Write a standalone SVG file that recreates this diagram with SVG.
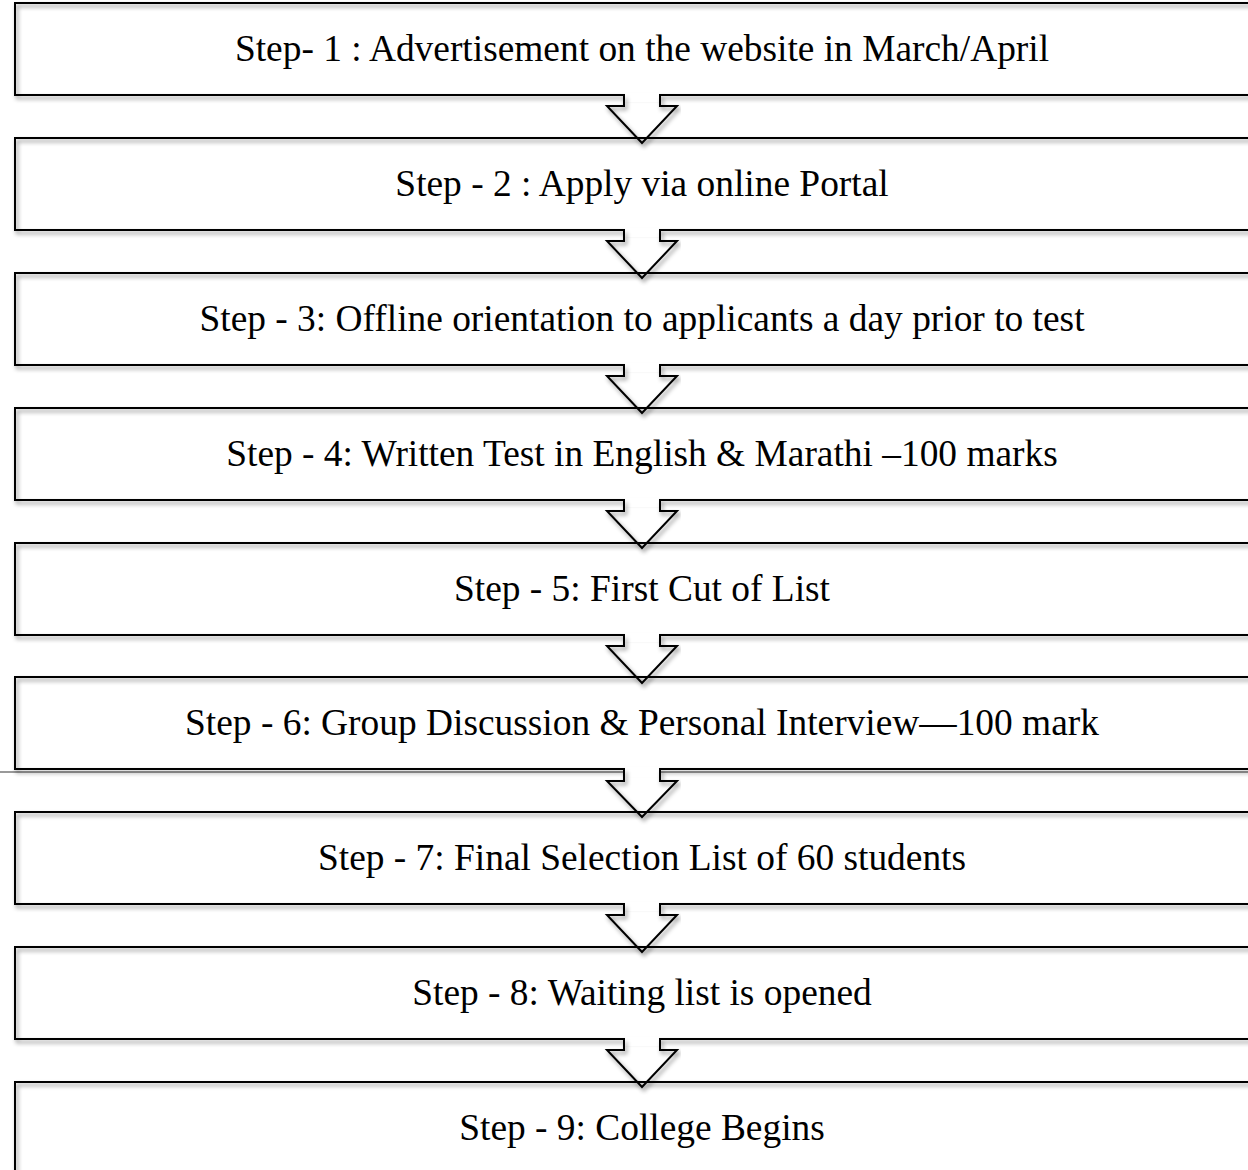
<svg xmlns="http://www.w3.org/2000/svg" width="1248" height="1170" viewBox="0 0 1248 1170">
<defs>
<filter id="sh" x="-5%" y="-20%" width="110%" height="150%">
<feDropShadow dx="2" dy="3" stdDeviation="2" flood-color="#000" flood-opacity="0.45"/>
</filter>
<style>
.box{fill:none;stroke:#000;stroke-width:2;filter:url(#sh)}
.t{font-family:"Liberation Serif","Times New Roman",serif;font-size:37.4px;fill:#000;text-anchor:middle}
.gap{fill:#fff;stroke:none}
.arr{fill:none;stroke:#000;stroke-width:2;stroke-linejoin:miter;filter:url(#sh)}
</style>
</defs>
<rect x="0" y="0" width="1248" height="1170" fill="#fff"/>
<line x1="0" y1="772" x2="1248" y2="772" stroke="#999" stroke-width="2"/>
<g id="n1"><rect class="box" x="15" y="3" width="1260" height="92"/><text class="t" x="642" y="61">Step- 1 : Advertisement on the website in March/April</text></g>
<g id="n2"><rect class="box" x="15" y="138" width="1260" height="92"/><text class="t" x="642" y="196">Step - 2 : Apply via online Portal</text></g>
<g id="n3"><rect class="box" x="15" y="273" width="1260" height="92"/><text class="t" x="642" y="331">Step - 3: Offline orientation to applicants a day prior to test</text></g>
<g id="n4"><rect class="box" x="15" y="408" width="1260" height="92"/><text class="t" x="642" y="466">Step - 4: Written Test in English &amp; Marathi –100 marks</text></g>
<g id="n5"><rect class="box" x="15" y="543" width="1260" height="92"/><text class="t" x="642" y="601">Step - 5: First Cut of List</text></g>
<g id="n6"><rect class="box" x="15" y="677" width="1260" height="92"/><text class="t" x="642" y="735">Step - 6: Group Discussion &amp; Personal Interview—100 mark</text></g>
<g id="n7"><rect class="box" x="15" y="812" width="1260" height="92"/><text class="t" x="642" y="870">Step - 7: Final Selection List of 60 students</text></g>
<g id="n8"><rect class="box" x="15" y="947" width="1260" height="92"/><text class="t" x="642" y="1005">Step - 8: Waiting list is opened</text></g>
<g id="n9"><rect class="box" x="15" y="1082" width="1260" height="120"/><text class="t" x="642" y="1140">Step - 9: College Begins</text></g>
<g id="connectors">
<g transform="translate(0,95)"><rect class="gap" x="625" y="-2" width="34" height="9"/><polyline class="arr" points="624,0 624,11 607,11 642,48 677,11 660,11 660,0"/></g>
<g transform="translate(0,230)"><rect class="gap" x="625" y="-2" width="34" height="9"/><polyline class="arr" points="624,0 624,11 607,11 642,48 677,11 660,11 660,0"/></g>
<g transform="translate(0,365)"><rect class="gap" x="625" y="-2" width="34" height="9"/><polyline class="arr" points="624,0 624,11 607,11 642,48 677,11 660,11 660,0"/></g>
<g transform="translate(0,500)"><rect class="gap" x="625" y="-2" width="34" height="9"/><polyline class="arr" points="624,0 624,11 607,11 642,48 677,11 660,11 660,0"/></g>
<g transform="translate(0,635)"><rect class="gap" x="625" y="-2" width="34" height="9"/><polyline class="arr" points="624,0 624,11 607,11 642,48 677,11 660,11 660,0"/></g>
<g transform="translate(0,769)"><rect class="gap" x="625" y="-2" width="34" height="10"/><polyline class="arr" points="624,0 624,12 607,12 642,48 677,12 660,12 660,0"/></g>
<g transform="translate(0,904)"><rect class="gap" x="625" y="-2" width="34" height="9"/><polyline class="arr" points="624,0 624,11 607,11 642,48 677,11 660,11 660,0"/></g>
<g transform="translate(0,1039)"><rect class="gap" x="625" y="-2" width="34" height="9"/><polyline class="arr" points="624,0 624,11 607,11 642,48 677,11 660,11 660,0"/></g>
</g>
</svg>
